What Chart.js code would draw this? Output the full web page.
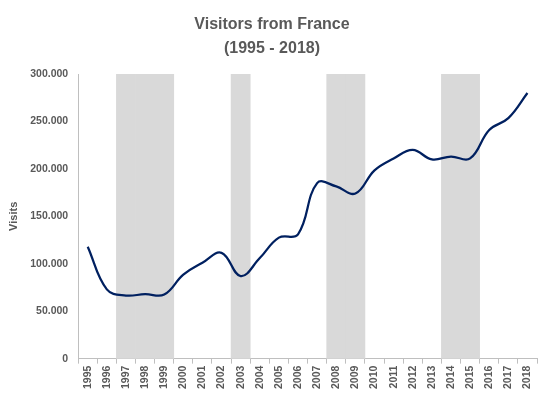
<!DOCTYPE html>
<html>
<head>
    <title>Visitors from France</title>
    <script src="https://cdn.jsdelivr.net/npm/chart.js"></script>
    <style>
        body { margin: 0; background: #fff; }
        #wrap { width: 552px; height: 398px; }
    </style>
</head>
<body>
    <div id="wrap"><canvas id="visitsChart" width="552" height="398"></canvas></div>
    <script>
        const years = ['1995', '1996', '1997', '1998', '1999', '2000', '2001', '2002', '2003', '2004', '2005', '2006',
                       '2007', '2008', '2009', '2010', '2011', '2012', '2013', '2014', '2015', '2016', '2017', '2018'];
        const visits = [118000, 73000, 66500, 68000, 67500, 88500, 101000, 111500, 87000, 106000, 127500, 131000,
                        185000, 181500, 174000, 198500, 211000, 220000, 210000, 213000, 211000, 241000, 253500, 280000];
        // shaded periods
        const shadedYears = ['1997', '1998', '1999', '2003', '2008', '2009', '2014', '2015'];
        const yTicks = [0, 50000, 100000, 150000, 200000, 250000, 300000];

        const shade = years.map(y => shadedYears.includes(y) ? yTicks[yTicks.length - 1] : null);
        const grey = '#595959';

        function fmt(v) {
            return String(v).replace(/\B(?=(\d{3})+(?!\d))/g, '.');
        }

        const ctx = document.getElementById('visitsChart').getContext('2d');
        new Chart(ctx, {
            type: 'bar',
            data: {
                labels: years,
                datasets: [
                    {
                        type: 'line',
                        label: 'Visits',
                        data: visits,
                        borderColor: '#002060',
                        borderWidth: 2.25,
                        pointRadius: 0,
                        tension: 0.4,
                        fill: false,
                        order: 0
                    },
                    {
                        label: 'Shade',
                        data: shade,
                        backgroundColor: '#d9d9d9',
                        borderWidth: 0,
                        barPercentage: 1,
                        categoryPercentage: 1,
                        order: 1
                    }
                ]
            },
            options: {
                responsive: false,
                animation: false,
                layout: { padding: { left: 7, right: 15, top: 0, bottom: 7 } },
                plugins: {
                    legend: { display: false },
                    tooltip: { enabled: false },
                    title: {
                        display: true,
                        text: ['Visitors from France', '(1995 - 2018)'],
                        color: grey,
                        font: { family: 'Liberation Sans', size: 16, weight: 'bold', lineHeight: 1.5 },
                        padding: { top: 13, bottom: 13 }
                    }
                },
                scales: {
                    x: {
                        offset: true,
                        grid: { display: true, offset: true, drawOnChartArea: false, color: '#bfbfbf', tickLength: 5 },
                        border: { color: '#bfbfbf' },
                        ticks: {
                            color: grey,
                            font: { family: 'Liberation Sans', size: 10.5, weight: 'bold' },
                            minRotation: 90,
                            maxRotation: 90,
                            autoSkip: false,
                            padding: 2
                        }
                    },
                    y: {
                        min: 0,
                        max: 300000,
                        afterBuildTicks: axis => { axis.ticks = yTicks.map(v => ({ value: v })); },
                        grid: { display: false, drawTicks: false },
                        border: { display: true, color: '#bfbfbf' },
                        ticks: {
                            color: grey,
                            font: { family: 'Liberation Sans', size: 10.5, weight: 'bold' },
                            padding: 10,
                            callback: v => fmt(v)
                        },
                        title: {
                            display: true,
                            text: 'Visits',
                            color: grey,
                            font: { family: 'Liberation Sans', size: 11, weight: 'bold' },
                            padding: { top: 0, bottom: 0 }
                        }
                    }
                }
            }
        });
    </script>
</body>
</html>
